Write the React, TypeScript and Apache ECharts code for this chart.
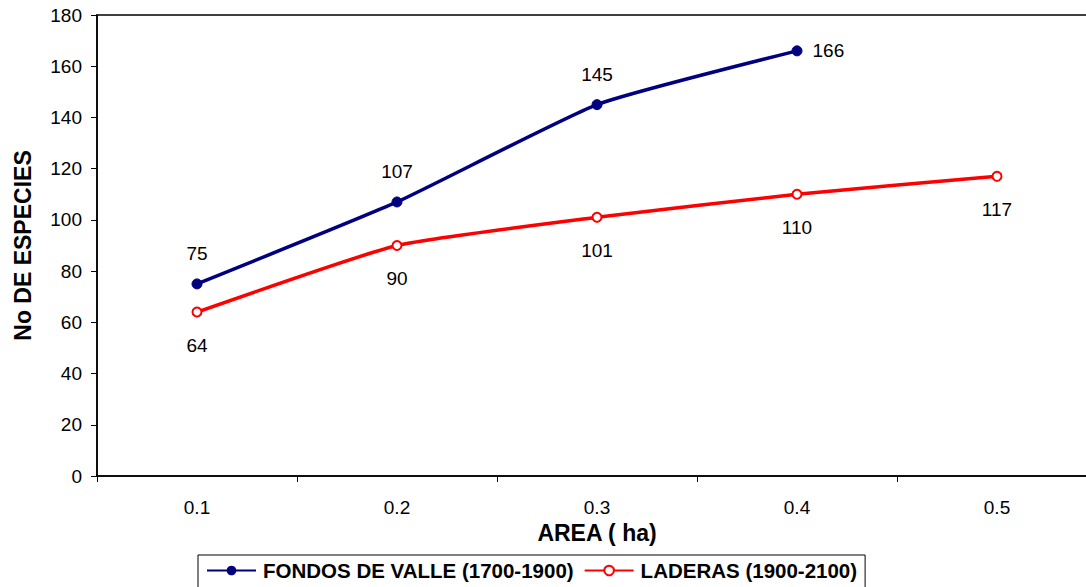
import React, { useEffect, useRef } from "react";
import * as echarts from "echarts";

const categories = ["0.1", "0.2", "0.3", "0.4", "0.5"];
const fondosValues: (number | null)[] = [75, 107, 145, 166, null];
const laderasValues = [64, 90, 101, 110, 117];
const fondosName = "FONDOS DE VALLE (1700-1900)";
const laderasName = "LADERAS (1900-2100)";
const yTitle = "No DE ESPECIES";
const xTitle = "AREA ( ha)";

const FONT = "'Liberation Sans', Arial, sans-serif";

export default function App() {
  const ref = useRef<HTMLDivElement>(null);
  useEffect(() => {
    if (!ref.current) return;
    const chart = echarts.init(ref.current, null, { renderer: "svg" });
    chart.setOption({
      animation: false,
      backgroundColor: "#ffffff",
      textStyle: { fontFamily: FONT, color: "#000" },
      grid: {
        left: 97,
        top: 15,
        width: 1000,
        height: 461,
        containLabel: false,
        outerBoundsMode: "none",
        show: true,
        borderColor: "#000",
        borderWidth: 1.5,
        backgroundColor: "transparent",
      },
      legend: {
        left: 198,
        top: 555,
        data: [fondosName, laderasName],
        orient: "horizontal",
        borderColor: "#000",
        borderWidth: 1,
        padding: [5, 8, 10, 8],
        itemWidth: 49,
        itemHeight: 12,
        itemGap: 10,
        textStyle: { fontFamily: FONT, fontWeight: "bold", fontSize: 20.5, color: "#000", padding: [0, 0, 0, 2] },
      },
      xAxis: {
        type: "category",
        data: categories,
        boundaryGap: true,
        name: xTitle,
        nameLocation: "middle",
        nameGap: 44,
        nameTextStyle: { fontFamily: FONT, fontWeight: "bold", fontSize: 23, color: "#000" },
        axisLine: { lineStyle: { color: "#000", width: 1.5 } },
        axisTick: { show: true, length: 6, lineStyle: { color: "#000" } },
        axisLabel: { fontFamily: FONT, fontSize: 19, color: "#000", margin: 22 },
        splitLine: { show: false },
      },
      yAxis: {
        type: "value",
        min: 0,
        max: 180,
        interval: 20,
        name: yTitle,
        nameLocation: "middle",
        nameGap: 63,
        nameRotate: 90,
        nameTextStyle: { fontFamily: FONT, fontWeight: "bold", fontSize: 23, color: "#000" },
        axisLine: { show: true, lineStyle: { color: "#000", width: 1.5 } },
        axisTick: { show: true, length: 6, lineStyle: { color: "#000" } },
        axisLabel: { fontFamily: FONT, fontSize: 19, color: "#000", margin: 15 },
        splitLine: { show: false },
      },
      series: [
        {
          name: fondosName,
          type: "line",
          data: fondosValues.map((v, i) =>
            i === 3
              ? { value: v, label: { position: "right", distance: 10 } }
              : v
          ),
          smooth: 0.15,
          connectNulls: false,
          symbol: "circle",
          symbolSize: 10,
          showAllSymbol: true,
          itemStyle: { color: "#000080", borderColor: "#000080" },
          lineStyle: { color: "#000080", width: 3.5 },
          label: {
            show: true,
            position: "top",
            distance: 15,
            fontFamily: FONT,
            fontSize: 19,
            color: "#000",
          },
          z: 3,
        },
        {
          name: laderasName,
          type: "line",
          data: laderasValues,
          smooth: 0.15,
          symbol: "circle",
          symbolSize: 9,
          showAllSymbol: true,
          itemStyle: { color: "#ffffff", borderColor: "#ff0000", borderWidth: 2 },
          lineStyle: { color: "#ff0000", width: 3.5 },
          label: {
            show: true,
            position: "bottom",
            distance: 18,
            fontFamily: FONT,
            fontSize: 19,
            color: "#000",
          },
          z: 2,
        },
      ],
    });
    return () => chart.dispose();
  }, []);
  return (
    <div
      ref={ref}
      style={{ position: "fixed", left: 0, top: 0, width: 1086, height: 587 }}
    />
  );
}
